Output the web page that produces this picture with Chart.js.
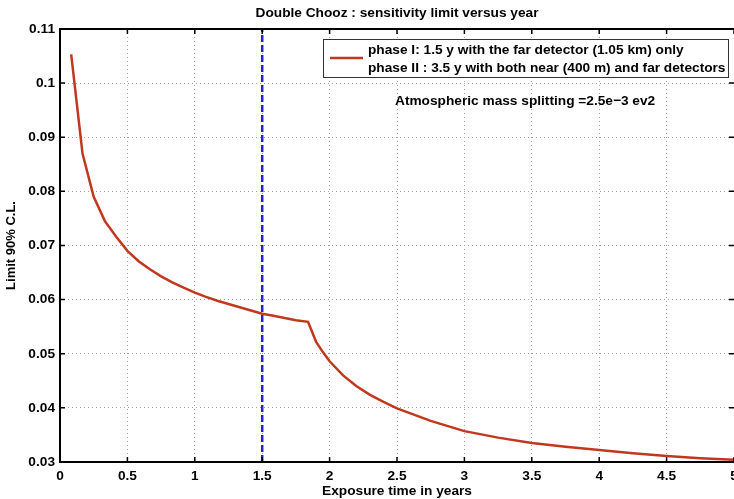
<!DOCTYPE html>
<html>
<head>
<meta charset="utf-8">
<script src="https://cdn.jsdelivr.net/npm/chart.js@4"></script>
<style>
  html, body { margin: 0; padding: 0; background: #fff; }
  #wrap { width: 734px; height: 499px; }
</style>
</head>
<body>
<div id="wrap"><canvas id="limit-chart"></canvas></div>
<script>
// exposure time (years) and 90% C.L. limit
const years = [0.083, 0.167, 0.25, 0.333, 0.417, 0.5, 0.583, 0.667, 0.75, 0.833, 0.917, 1.0,
    1.083, 1.167, 1.25, 1.333, 1.417, 1.5, 1.583, 1.667, 1.75, 1.84, 1.9, 1.95, 2.0, 2.1,
    2.2, 2.3, 2.4, 2.5, 2.75, 3.0, 3.25, 3.5, 3.75, 4.0, 4.25, 4.5, 4.75, 5.0]
const limit = [0.1053, 0.0870, 0.0790, 0.0745, 0.0716, 0.0690, 0.0671, 0.0656, 0.0643, 0.0632, 0.0622, 0.0613,
    0.0605, 0.0598, 0.0592, 0.0586, 0.0580, 0.0574, 0.0570, 0.0566, 0.0562, 0.0559, 0.0522, 0.0503, 0.0486, 0.0460,
    0.0440, 0.0424, 0.0411, 0.0399, 0.0376, 0.0357, 0.0345, 0.0335, 0.0328, 0.0322, 0.0316, 0.0311, 0.0307, 0.0304]

// end of phase I
const phaseEnd = 1.5

const xTicks = [0, 0.5, 1, 1.5, 2, 2.5, 3, 3.5, 4, 4.5, 5]
const yTicks = [0.03, 0.04, 0.05, 0.06, 0.07, 0.08, 0.09, 0.1, 0.11]

const legendLines = [
    'phase I: 1.5 y with the far detector (1.05 km) only',
    'phase II : 3.5 y with both near (400 m) and far detectors',
]
const note = 'Atmospheric mass splitting =2.5e\u22123 ev2'

const FONT = 'Liberation Sans, Arial, Helvetica, sans-serif'
const FS = 13.7
const curveColor = '#c0391e'

// frame, inward ticks, legend box and note
const matlabFrame = {
    id: 'matlabFrame',
    afterDatasetsDraw(chart) {
        const ctx = chart.ctx
        const a = chart.chartArea
        const xs = chart.scales.x, ys = chart.scales.y
        ctx.save()
        ctx.strokeStyle = '#000'
        ctx.lineWidth = 2
        ctx.beginPath()
        ctx.moveTo(a.left, a.top)
        ctx.lineTo(a.right, a.top)
        ctx.moveTo(a.left, a.top - 1)
        ctx.lineTo(a.left, a.bottom + 1)
        ctx.moveTo(a.left - 1, a.bottom)
        ctx.lineTo(a.right, a.bottom)
        ctx.stroke()
        ctx.lineWidth = 1.5
        xTicks.forEach(function(v) {
            const px = xs.getPixelForValue(v)
            ctx.beginPath()
            ctx.moveTo(px, a.top); ctx.lineTo(px, a.top + 5)
            ctx.moveTo(px, a.bottom); ctx.lineTo(px, a.bottom - 5)
            ctx.stroke()
        })
        yTicks.forEach(function(v) {
            const py = ys.getPixelForValue(v)
            ctx.beginPath()
            ctx.moveTo(a.left, py); ctx.lineTo(a.left + 5, py)
            ctx.moveTo(a.right, py); ctx.lineTo(a.right - 5, py)
            ctx.stroke()
        })

        // legend
        const bx = 323, by = 39, bw = 405, bh = 38
        ctx.fillStyle = '#fff'
        ctx.fillRect(bx, by, bw, bh)
        ctx.strokeStyle = '#333'
        ctx.lineWidth = 1
        ctx.strokeRect(bx + 0.5, by + 0.5, bw, bh)
        ctx.strokeStyle = curveColor
        ctx.lineWidth = 2.5
        ctx.beginPath()
        ctx.moveTo(330, 58); ctx.lineTo(363, 58)
        ctx.stroke()
        ctx.fillStyle = '#000'
        ctx.font = 'bold ' + FS + 'px ' + FONT
        ctx.textBaseline = 'middle'
        ctx.textAlign = 'left'
        ctx.fillText(legendLines[0], 368, 50.5)
        ctx.fillText(legendLines[1], 368, 68.5)

        ctx.fillText(note, 395, 101)
        ctx.restore()
    }
}

const limitChart = new Chart(document.getElementById('limit-chart'), {
    type: 'line',
    data: {
        datasets: [{
            label: legendLines[0],
            data: years.map(function(x, i) { return { x: x, y: limit[i] } }),
            borderColor: curveColor,
            borderWidth: 2.5,
            pointRadius: 0,
            tension: 0,
        }, {
            label: 'phase I end',
            data: [{ x: phaseEnd, y: 0.03 }, { x: phaseEnd, y: 0.11 }],
            borderColor: '#2424c8',
            borderWidth: 2.5,
            borderDash: [7, 3],
            pointRadius: 0,
        }]
    },
    plugins: [matlabFrame],
    options: {
        responsive: true,
        maintainAspectRatio: false,
        animation: false,
        layout: { padding: { top: 0, right: 0, bottom: 0, left: 0 } },
        plugins: {
            legend: { display: false },
            tooltip: { enabled: false },
            title: {
                display: true,
                fullSize: false,
                text: 'Double Chooz : sensitivity limit versus year',
                color: '#000',
                font: { family: FONT, size: FS, weight: 'bold' },
                padding: { top: 5, bottom: 7.5 },
            }
        },
        scales: {
            x: {
                type: 'linear',
                min: 0,
                max: 5,
                afterBuildTicks: function(scale) { scale.ticks = xTicks.map(function(v) { return { value: v } }) },
                afterFit: function(scale) { scale.height = 37; scale.paddingLeft = 0; scale.paddingRight = 0 },
                ticks: {
                    color: '#000',
                    font: { family: FONT, size: FS, weight: 'bold' },
                    padding: 6,
                    maxRotation: 0,
                    autoSkip: false,
                    callback: function(v) { return String(v) },
                },
                grid: { color: '#a0a0a0', lineWidth: 1, drawTicks: false },
                border: { display: false, dash: [1, 3] },
                title: {
                    display: true,
                    text: 'Exposure time in years',
                    color: '#000',
                    font: { family: FONT, size: FS, weight: 'bold' },
                    padding: { top: 0, bottom: 0 },
                }
            },
            y: {
                type: 'linear',
                min: 0.03,
                max: 0.11,
                afterBuildTicks: function(scale) { scale.ticks = yTicks.map(function(v) { return { value: v } }) },
                afterFit: function(scale) { scale.width = 60; scale.paddingTop = 0; scale.paddingBottom = 0 },
                ticks: {
                    color: '#000',
                    font: { family: FONT, size: FS, weight: 'bold' },
                    padding: 5,
                    callback: function(v) { return String(parseFloat(v.toFixed(2))) },
                },
                grid: { color: '#a0a0a0', lineWidth: 1, drawTicks: false },
                border: { display: false, dash: [1, 3] },
                title: {
                    display: true,
                    text: 'Limit 90% C.L.',
                    color: '#000',
                    font: { family: FONT, size: 13, weight: 'bold' },
                    padding: { top: 4, bottom: 0 },
                }
            }
        }
    }
})
</script>
</body>
</html>
